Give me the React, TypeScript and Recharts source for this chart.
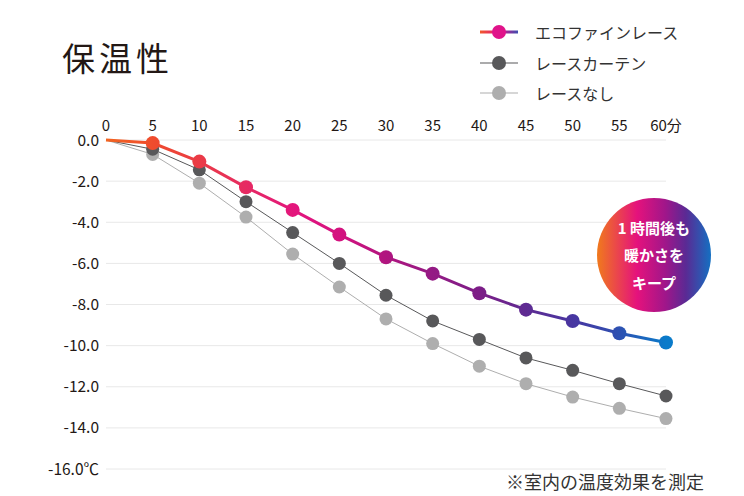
import { LineChart, Line, XAxis, YAxis, CartesianGrid, Legend } from 'recharts'

// minutes after start
const minutes = [0, 5, 10, 15, 20, 25, 30, 35, 40, 45, 50, 55, 60]
// temperature drop (℃)
const ecoFineLace = [0, -0.15, -1.05, -2.3, -3.4, -4.6, -5.7, -6.5, -7.45, -8.25, -8.8, -9.4, -9.85]
const laceCurtain = [0, -0.45, -1.45, -3.0, -4.5, -6.0, -7.55, -8.8, -9.7, -10.6, -11.2, -11.85, -12.45]
const noLace = [0, -0.7, -2.1, -3.75, -5.55, -7.15, -8.7, -9.9, -11.0, -11.85, -12.5, -13.05, -13.55]

const xTicks = [0, 5, 10, 15, 20, 25, 30, 35, 40, 45, 50, 55, 60]
const yTicks = [0, -2, -4, -6, -8, -10, -12, -14, -16]

const seriesNames = ['エコファインレース', 'レースカーテン', 'レースなし']

const data = minutes.map((m, i) => ({
  min: m,
  eco: ecoFineLace[i],
  lace: laceCurtain[i],
  none: noLace[i],
}))

const FONT = "'Noto Sans CJK JP', 'Noto Sans', sans-serif"
const TEXT = '#231815'
const DARK = '#58585a'
const LIGHT = '#aeaeae'

const XTick = (props: any) => {
  const { x, y, payload } = props
  return (
    <text x={x} y={y - 9.5} textAnchor="middle" fill={TEXT} fontSize={15} fontFamily={FONT}>
      {payload.value === 60 ? '60分' : payload.value}
    </text>
  )
}

const YTick = (props: any) => {
  const { x, y, payload } = props
  const v = payload.value as number
  const label = v === 0 ? '0.0' : v === -16 ? '-16.0℃' : v.toFixed(1)
  return (
    <text x={x} y={y} dy="0.36em" textAnchor="end" fill={TEXT} fontSize={15.5} fontFamily={FONT}>
      {label}
    </text>
  )
}

const makeDot = (fill: string, r: number) => (props: any) => {
  const { cx, cy, index } = props
  if (index === 0) return <g key={`d-${index}`} />
  return <circle key={`d-${index}`} cx={cx} cy={cy} r={r} fill={fill} />
}

const renderLegend = () => {
  const rows = [
    { name: seriesNames[0], line: 'url(#ecoLegend)', dot: '#e0138a', w: 3 },
    { name: seriesNames[1], line: DARK, dot: DARK, w: 1 },
    { name: seriesNames[2], line: LIGHT, dot: LIGHT, w: 1 },
  ]
  return (
    <div style={{ fontFamily: FONT }}>
      {rows.map((r) => (
        <div key={r.name} style={{ display: 'flex', alignItems: 'center', height: 30.5 }}>
          <svg width={44} height={16} style={{ marginRight: 15 }}>
            <defs>
              <linearGradient id="ecoLegend" x1="0" y1="0" x2="1" y2="0">
                <stop offset="0%" stopColor="#f15a29" />
                <stop offset="50%" stopColor="#e20f86" />
                <stop offset="100%" stopColor="#3d4fb0" />
              </linearGradient>
            </defs>
            <rect x={4} y={8 - r.w / 2} width={38} height={r.w} fill={r.line} />
            <circle cx={23} cy={8} r={7} fill={r.dot} />
          </svg>
          <span style={{ fontSize: 16, color: '#333', whiteSpace: 'nowrap' }}>{r.name}</span>
        </div>
      ))}
    </div>
  )
}

export default function App() {
  return (
    <div style={{ position: 'absolute', left: 0, top: 0, width: 744, height: 496, background: '#fff' }}>
      <div
        style={{
          position: 'absolute',
          left: 62,
          top: 33,
          fontFamily: FONT,
          fontSize: 33,
          letterSpacing: 4,
          color: TEXT,
          lineHeight: '48px',
        }}
      >
        保温性
      </div>

      <LineChart width={744} height={496} data={data} margin={{ top: 110, right: 78, bottom: 27, left: 10 }}>
        <defs>
          <linearGradient id="eco" gradientUnits="userSpaceOnUse" x1={106} y1={0} x2={666} y2={0}>
            <stop offset="0%" stopColor="#f26522" />
            <stop offset="9%" stopColor="#ef4a2e" />
            <stop offset="17%" stopColor="#ea3a47" />
            <stop offset="25%" stopColor="#e62a62" />
            <stop offset="34%" stopColor="#e3157e" />
            <stop offset="42%" stopColor="#d3127f" />
            <stop offset="50%" stopColor="#b0157f" />
            <stop offset="58%" stopColor="#951a84" />
            <stop offset="67%" stopColor="#7b1d87" />
            <stop offset="75%" stopColor="#5e2b92" />
            <stop offset="84%" stopColor="#4637a2" />
            <stop offset="92%" stopColor="#2c52b2" />
            <stop offset="100%" stopColor="#0a7bca" />
          </linearGradient>
        </defs>
        <CartesianGrid vertical={false} stroke="#e8e8e8" strokeWidth={1} />
        <XAxis
          dataKey="min"
          type="number"
          orientation="top"
          domain={[0, 60]}
          ticks={xTicks}
          height={30}
          axisLine={false}
          tickLine={false}
          tickSize={0}
          tickMargin={0}
          tick={<XTick />}
          interval={0}
        />
        <YAxis
          type="number"
          domain={[-16, 0]}
          ticks={yTicks}
          width={96}
          axisLine={false}
          tickLine={false}
          tickSize={0}
          tickMargin={7}
          tick={<YTick />}
          interval={0}
        />
        <Legend
          layout="vertical"
          align="center"
          verticalAlign="middle"
          content={renderLegend}
          wrapperStyle={{ position: 'absolute', left: 476, top: 17, width: 250 }}
        />
        <Line
          dataKey="none"
          name={seriesNames[2]}
          stroke={LIGHT}
          strokeWidth={1}
          dot={makeDot(LIGHT, 6.5)}
          activeDot={false}
          isAnimationActive={false}
        />
        <Line
          dataKey="lace"
          name={seriesNames[1]}
          stroke={DARK}
          strokeWidth={1}
          dot={makeDot(DARK, 6.5)}
          activeDot={false}
          isAnimationActive={false}
        />
        <Line
          dataKey="eco"
          name={seriesNames[0]}
          stroke="url(#eco)"
          strokeWidth={3}
          dot={makeDot('url(#eco)', 7)}
          activeDot={false}
          isAnimationActive={false}
        />
      </LineChart>

      <div
        style={{
          position: 'absolute',
          left: 597,
          top: 198,
          width: 114,
          height: 114,
          borderRadius: '50%',
          background: 'linear-gradient(90deg, #f07a1c 0%, #e5127c 35%, #a0168a 60%, #5a2a94 78%, #1470c2 100%)',
          color: '#fff',
          fontFamily: FONT,
          fontWeight: 700,
          fontSize: 15,
          lineHeight: '27.5px',
          textAlign: 'center',
          display: 'flex',
          flexDirection: 'column',
          justifyContent: 'center',
        }}
      >
        <div>1 時間後も</div>
        <div>暖かさを</div>
        <div>キープ</div>
      </div>

      <div
        style={{
          position: 'absolute',
          right: 40,
          top: 471,
          fontFamily: FONT,
          fontSize: 18,
          color: '#333',
          lineHeight: '20px',
          whiteSpace: 'nowrap',
        }}
      >
        ※室内の温度効果を測定
      </div>
    </div>
  )
}
